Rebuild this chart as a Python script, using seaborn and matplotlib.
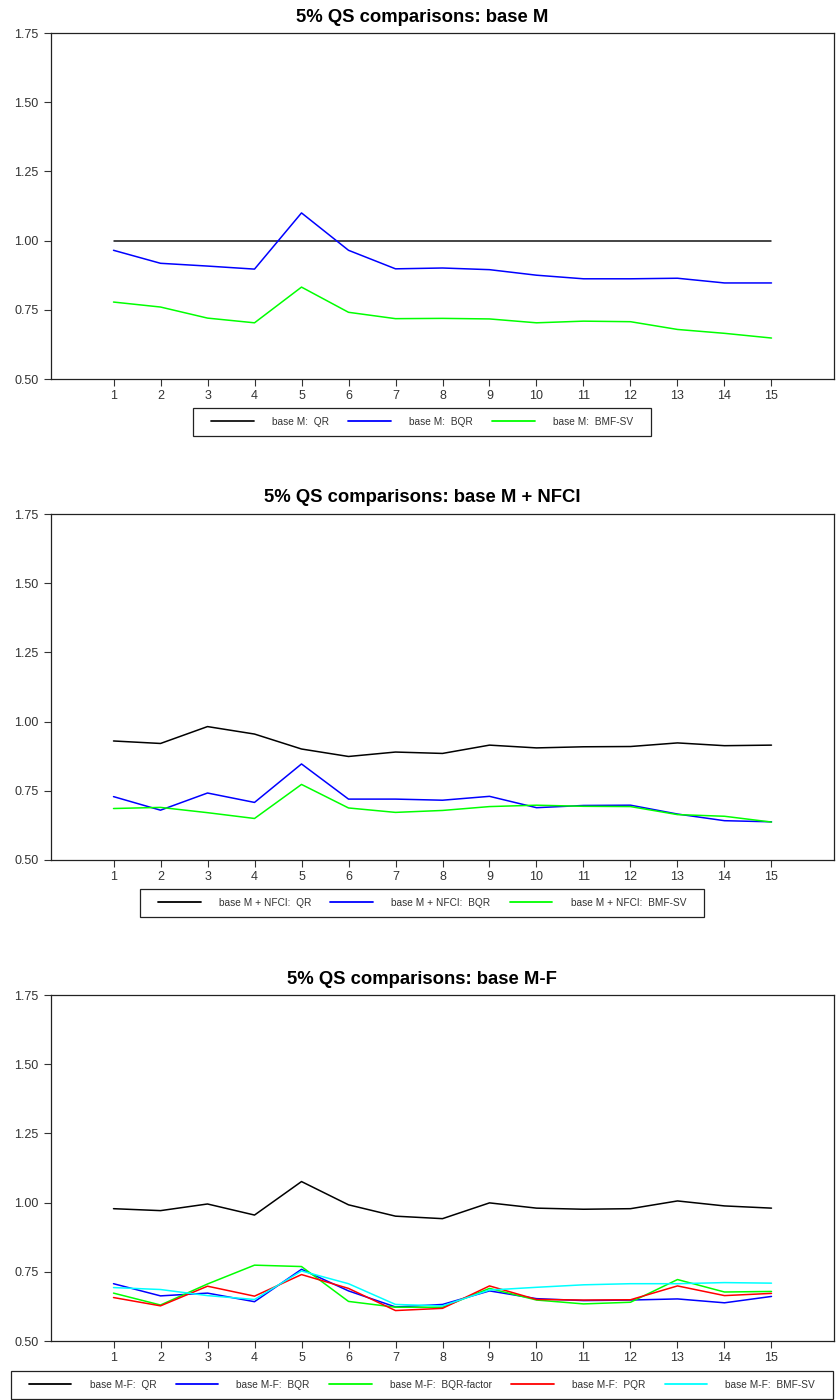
import matplotlib
matplotlib.use("Agg")
import matplotlib.pyplot as plt
import seaborn as sns
import pandas as pd
from matplotlib.patches import Rectangle

horizons = list(range(1, 16))

# Panel 1: base M
m_qr = [1.00] * 15
m_bqr = [0.965, 0.918, 0.908, 0.897, 1.100, 0.965, 0.898, 0.901, 0.895, 0.875, 0.862, 0.862, 0.864, 0.847, 0.847]
m_bmfsv = [0.778, 0.760, 0.720, 0.703, 0.832, 0.741, 0.718, 0.719, 0.717, 0.703, 0.709, 0.707, 0.679, 0.665, 0.648]

# Panel 2: base M + NFCI
n_qr = [0.930, 0.921, 0.982, 0.955, 0.901, 0.874, 0.890, 0.885, 0.915, 0.905, 0.909, 0.910, 0.923, 0.913, 0.915]
n_bqr = [0.729, 0.680, 0.742, 0.708, 0.847, 0.720, 0.720, 0.716, 0.730, 0.689, 0.697, 0.698, 0.666, 0.642, 0.638]
n_bmfsv = [0.686, 0.690, 0.671, 0.650, 0.773, 0.688, 0.672, 0.679, 0.693, 0.698, 0.694, 0.693, 0.664, 0.658, 0.637]

# Panel 3: base M-F
f_qr = [0.978, 0.971, 0.995, 0.955, 1.076, 0.992, 0.951, 0.942, 0.999, 0.980, 0.976, 0.978, 1.006, 0.988, 0.980]
f_bqr = [0.707, 0.663, 0.673, 0.642, 0.759, 0.681, 0.623, 0.632, 0.681, 0.653, 0.646, 0.648, 0.652, 0.638, 0.661]
f_bqrfac = [0.673, 0.630, 0.706, 0.774, 0.769, 0.643, 0.622, 0.622, 0.690, 0.648, 0.634, 0.640, 0.722, 0.677, 0.679]
f_pqr = [0.657, 0.627, 0.698, 0.662, 0.740, 0.690, 0.610, 0.618, 0.699, 0.650, 0.648, 0.649, 0.699, 0.664, 0.672]
f_bmfsv = [0.693, 0.686, 0.664, 0.650, 0.753, 0.707, 0.632, 0.627, 0.684, 0.694, 0.703, 0.707, 0.707, 0.711, 0.709]

titles = ["5% QS comparisons: base M",
          "5% QS comparisons: base M + NFCI",
          "5% QS comparisons: base M-F"]
y_ticks = [0.50, 0.75, 1.00, 1.25, 1.50, 1.75]

panels = [
    (["base M:  QR", "base M:  BQR", "base M:  BMF-SV"],
     [m_qr, m_bqr, m_bmfsv], ["#111111", "#0000FF", "#00FF00"]),
    (["base M + NFCI:  QR", "base M + NFCI:  BQR", "base M + NFCI:  BMF-SV"],
     [n_qr, n_bqr, n_bmfsv], ["#000000", "#0000FF", "#00FF00"]),
    (["base M-F:  QR", "base M-F:  BQR", "base M-F:  BQR-factor", "base M-F:  PQR", "base M-F:  BMF-SV"],
     [f_qr, f_bqr, f_bqrfac, f_pqr, f_bmfsv], ["#000000", "#0000FF", "#00FF00", "#FF0000", "#00FFFF"]),
]

sns.set_theme(style="ticks")
plt.rcParams['font.family'] = ['Liberation Sans', 'DejaVu Sans']

W, H = 837, 1400
fig = plt.figure(figsize=(W / 100, H / 100), dpi=100)

axes_px = [(33, 379), (514, 860), (995, 1341)]
legend_cy = [422, 903, 1385]
left_px, right_px = 51, 834
center_x = 422

legends = []
for i, ((labels, series, colors), (top, bot)) in enumerate(zip(panels, axes_px)):
    ax = fig.add_axes([left_px / W, 1 - bot / H, (right_px - left_px) / W, (bot - top) / H])
    rows = []
    for lab, vals in zip(labels, series):
        for h, v in zip(horizons, vals):
            rows.append({"h": h, "v": v, "model": lab})
    df = pd.DataFrame(rows)
    sns.lineplot(data=df, x="h", y="v", hue="model", hue_order=labels,
                 palette=colors, ax=ax, linewidth=1.1, legend=True)
    handles, labs = ax.get_legend_handles_labels()
    ax.get_legend().remove()
    ax.set_xlim(-0.33, 16.33)
    ax.set_ylim(0.50, 1.75)
    ax.set_xticks(horizons)
    ax.set_xticklabels([str(h) for h in horizons])
    ax.set_yticks(y_ticks)
    ax.set_yticklabels([f"{t:.2f}" for t in y_ticks])
    ax.set_xlabel("")
    ax.set_ylabel("")
    fig.text(center_x / W, 1 - (top - 16) / H, titles[i], fontsize=13.3,
             fontweight="bold", ha="center", va="center", color="black")
    for s in ax.spines.values():
        s.set_visible(True)
        s.set_linewidth(0.9)
        s.set_color("#222222")
    ax.tick_params(axis="both", labelsize=9, colors="#333333", length=5, width=0.8,
                   direction="out", pad=3)
    ax.tick_params(axis="y", pad=4)
    ax.grid(False)
    leg = fig.legend(handles, labs, loc="center",
                     bbox_to_anchor=(center_x / W, 1 - legend_cy[i] / H),
                     ncol=len(labs), frameon=False, fontsize=7.3,
                     handlelength=4.2, handletextpad=1.8, columnspacing=1.9,
                     borderpad=0.0, borderaxespad=0)
    for t in leg.get_texts():
        t.set_color("#333333")
    for lh in leg.get_lines():
        lh.set_linewidth(1.3)
    legends.append(leg)

fig.canvas.draw()
inv = fig.transFigure.inverted()
for leg in legends:
    bb = leg.get_window_extent()
    x0, y0 = bb.x0 - 18, bb.y0 - 9
    x1, y1 = bb.x1 + 18, bb.y1 + 9
    (fx0, fy0) = inv.transform((x0, y0))
    (fx1, fy1) = inv.transform((x1, y1))
    rect = Rectangle((fx0, fy0), fx1 - fx0, fy1 - fy0, transform=fig.transFigure,
                     fill=False, edgecolor="#222222", linewidth=0.9)
    fig.add_artist(rect)

fig.savefig("out.png", dpi=100)
